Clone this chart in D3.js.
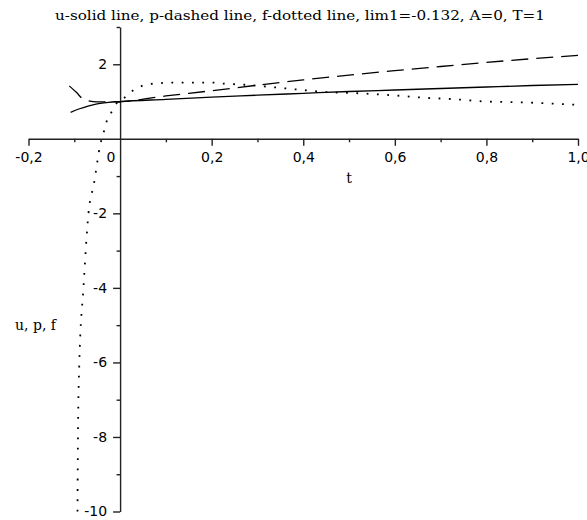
<!DOCTYPE html>
<html>
<head>
<meta charset="utf-8">
<script src="https://cdn.jsdelivr.net/npm/d3@7"></script>
<style>
  body { margin: 0; background: #fff; }
  svg { display: block; }
  .axis path, .axis line { stroke: #222; stroke-width: 1.4; }
  .axis text { font-family: "DejaVu Sans", sans-serif; font-size: 14px; fill: #000; }
</style>
</head>
<body>
<svg id="chart" width="587" height="520"></svg>
<script>
// values
var title = "u-solid line, p-dashed line, f-dotted line, lim1=-0.132, A=0, T=1";
var xLabel = "t";
var yLabel = "u, p, f";

var xMajor = [-0.2, 0.2, 0.4, 0.6, 0.8, 1.0];
var xMinor = [-0.1, 0.1, 0.3, 0.5, 0.7, 0.9];
var xTickLabels = ["-0,2", "0,2", "0,4", "0,6", "0,8", "1,0"];
var yMajor = [-10, -8, -6, -4, -2, 2];
var yMinor = [-9, -7, -5, -3, -1, 1, 3];
var yTickLabels = ["-10", "-8", "-6", "-4", "-2", "2"];

// u (solid)
var uT = [-0.108, -0.09, -0.07, -0.05, -0.025, 0, 0.1, 0.2, 0.3, 0.4, 0.5, 0.6, 0.7, 0.8, 0.9, 1.0];
var uV = [0.71, 0.80, 0.88, 0.94, 0.98, 1.0, 1.06, 1.12, 1.17, 1.22, 1.27, 1.31, 1.35, 1.39, 1.43, 1.46];

// p (dashed)
var pT = [-0.111, -0.095, -0.08, -0.05, 0, 0.1, 0.2, 0.3, 0.4, 0.5, 0.6, 0.7, 0.8, 0.9, 1.0];
var pV = [1.42, 1.24, 1.06, 0.99, 1.0, 1.15, 1.29, 1.44, 1.58, 1.71, 1.83, 1.94, 2.05, 2.15, 2.24];

// f (dotted)
var fT = [-0.093, -0.092, -0.089, -0.080, -0.069, -0.057, -0.044, -0.034, -0.028, -0.017, -0.007, 0,
          0.011, 0.026, 0.048, 0.073, 0.125, 0.198, 0.227, 0.271, 0.33, 0.389, 0.455, 0.505,
          0.593, 0.667, 0.733, 0.799, 0.873, 1.0];
var fV = [-10, -8, -6, -4, -2, -1.2, -0.2, 0.25, 0.52, 0.75, 0.96, 1.0,
          1.12, 1.28, 1.42, 1.48, 1.51, 1.51, 1.48, 1.45, 1.39, 1.32, 1.25, 1.23,
          1.17, 1.10, 1.06, 1.0, 0.98, 0.91];

var svg = d3.select("#chart");

var x = d3.scaleLinear().domain([-0.2, 1.0]).range([28.5, 578]);
var y = d3.scaleLinear().domain([-10, 3]).range([511.5, 27]);

// x axis
var gx = svg.append("g").attr("class", "axis")
    .attr("transform", "translate(0," + y(0) + ")");
gx.call(d3.axisBottom(x).tickValues(xMajor).tickSize(7).tickPadding(6).tickSizeOuter(0)
    .tickFormat(function (d, i) { return xTickLabels[i]; }));
gx.append("g").call(d3.axisBottom(x).tickValues(xMinor).tickSize(3.5).tickSizeOuter(0).tickFormat(""))
    .select(".domain").remove();
gx.append("text")
    .attr("x", x(0) - 9).attr("y", 13).attr("dy", "0.71em")
    .attr("text-anchor", "middle").attr("fill", "#000")
    .text("0");

// y axis
var gy = svg.append("g").attr("class", "axis")
    .attr("transform", "translate(" + x(0) + ",0)");
gy.call(d3.axisLeft(y).tickValues(yMajor).tickSize(7).tickPadding(6).tickSizeOuter(0)
    .tickFormat(function (d, i) { return yTickLabels[i]; }));
gy.append("g").call(d3.axisLeft(y).tickValues(yMinor).tickSize(3.5).tickSizeOuter(0).tickFormat(""))
    .select(".domain").remove();

// curves
var line = d3.line()
    .x(function (d) { return x(d[0]); })
    .y(function (d) { return y(d[1]); })
    .curve(d3.curveMonotoneX);

function pairs(ts, vs) { return ts.map(function (t, i) { return [t, vs[i]]; }); }

svg.append("path").datum(pairs(uT, uV))
    .attr("d", line).attr("fill", "none").attr("stroke", "#000").attr("stroke-width", 1.3);

svg.append("path").datum(pairs(pT, pV))
    .attr("d", line).attr("fill", "none").attr("stroke", "#000").attr("stroke-width", 1.3)
    .attr("stroke-dasharray", "17,8");

svg.append("path").datum(pairs(fT, fV))
    .attr("d", line).attr("fill", "none").attr("stroke", "#000").attr("stroke-width", 1.8)
    .attr("stroke-dasharray", "1.8,8.5");

// texts
svg.append("text")
    .attr("x", 300).attr("y", 20)
    .attr("text-anchor", "middle")
    .attr("textLength", 490).attr("lengthAdjust", "spacingAndGlyphs")
    .style("font-family", "'DejaVu Serif', serif").style("font-size", "12px")
    .text(title);

svg.append("text")
    .attr("x", x(0.5)).attr("y", 183)
    .attr("text-anchor", "middle")
    .style("font-family", "'DejaVu Serif', serif").style("font-size", "14px")
    .text(xLabel);

svg.append("text")
    .attr("x", 15).attr("y", 330)
    .style("font-family", "'DejaVu Serif', serif").style("font-size", "14px")
    .text(yLabel);
</script>
</body>
</html>
